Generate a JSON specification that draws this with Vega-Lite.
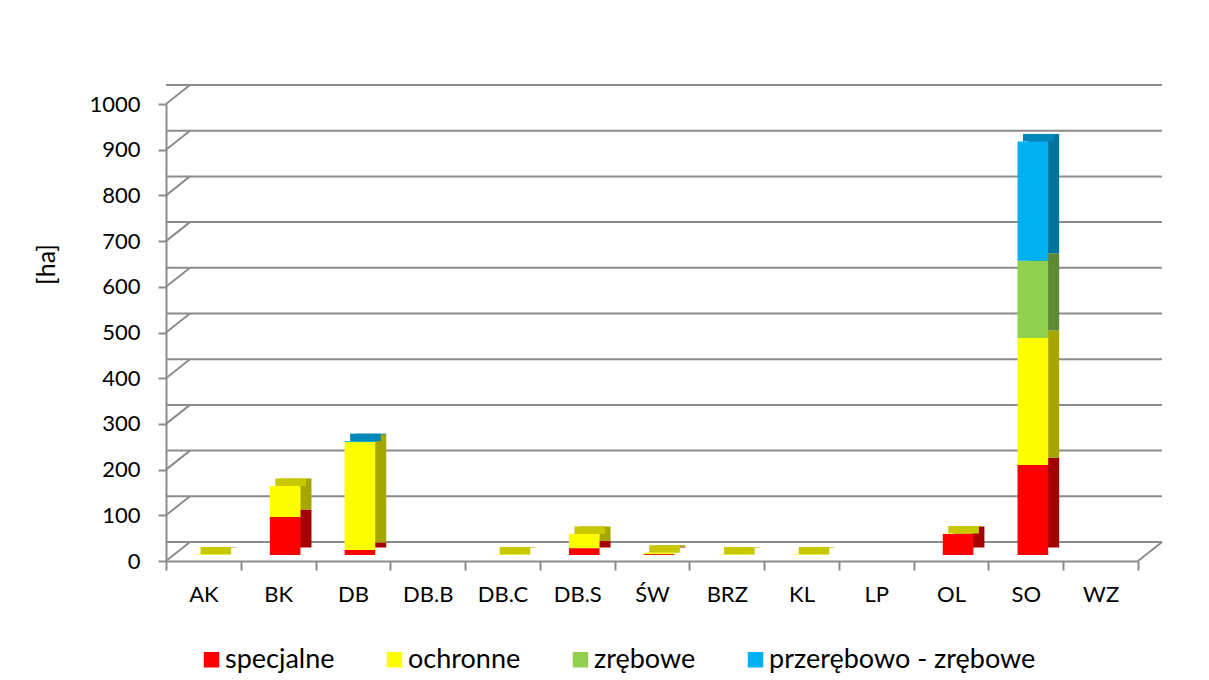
{
  "$schema": "https://vega.github.io/schema/vega-lite/v6.json",
  "width": 972,
  "height": 457,
  "autosize": {"type": "none"},
  "padding": {"left": 166, "top": 104, "right": 71, "bottom": 119},
  "background": "white",
  "config": {
    "view": {"stroke": null},
    "font": "Lato",
    "axis": {"labelFont": "Lato", "titleFont": "Lato", "labelColor": "#000000", "titleColor": "#000000", "domainColor": "#8c8c8c", "tickColor": "#8c8c8c", "domainWidth": 2, "tickWidth": 2, "grid": false},
    "axisX": {"labelFontSize": 22, "labelAngle": 0, "tickBand": "extent", "tickSize": 9, "labelPadding": 14},
    "axisY": {"labelFontSize": 22, "tickSize": 8, "labelPadding": 18, "format": "d", "titleFontSize": 25, "titleFontWeight": "normal", "titleAngle": -90, "titleX": -107, "titleY": 160, "values": [0, 100, 200, 300, 400, 500, 600, 700, 800, 900, 1000]},
    "legend": {"labelFont": "Lato", "labelFontSize": 27, "labelColor": "#000000"}
  },
  "datasets": {
    "bars": [
      {"cat": "AK", "s": "ochronne", "v": 1},
      {"cat": "BK", "s": "specjalne", "v": 83},
      {"cat": "BK", "s": "ochronne", "v": 68},
      {"cat": "DB", "s": "specjalne", "v": 11},
      {"cat": "DB", "s": "ochronne", "v": 236},
      {"cat": "DB", "s": "przerębowo - zrębowe", "v": 2},
      {"cat": "DB.B", "s": "specjalne", "v": 0},
      {"cat": "DB.C", "s": "ochronne", "v": 1},
      {"cat": "DB.S", "s": "specjalne", "v": 15},
      {"cat": "DB.S", "s": "ochronne", "v": 31},
      {"cat": "ŚW", "s": "specjalne", "v": 2},
      {"cat": "ŚW", "s": "ochronne", "v": 3},
      {"cat": "BRZ", "s": "ochronne", "v": 1},
      {"cat": "KL", "s": "ochronne", "v": 1},
      {"cat": "LP", "s": "specjalne", "v": 0},
      {"cat": "OL", "s": "specjalne", "v": 46},
      {"cat": "OL", "s": "ochronne", "v": 1},
      {"cat": "SO", "s": "specjalne", "v": 197},
      {"cat": "SO", "s": "ochronne", "v": 278},
      {"cat": "SO", "s": "zrębowe", "v": 169},
      {"cat": "SO", "s": "przerębowo - zrębowe", "v": 261},
      {"cat": "WZ", "s": "specjalne", "v": 0}
    ],
    "grid": [
      {"g": 0}, {"g": 100}, {"g": 200}, {"g": 300}, {"g": 400}, {"g": 500},
      {"g": 600}, {"g": 700}, {"g": 800}, {"g": 900}, {"g": 1000}
    ]
  },
  "resolve": {"scale": {"color": "independent"}},
  "layer": [
    {
      "data": {"name": "grid"},
      "mark": {"type": "rule", "color": "#8c8c8c", "strokeWidth": 2, "xOffset": 24, "yOffset": -19},
      "encoding": {
        "y": {"field": "g", "type": "quantitative", "scale": {"domain": [0, 1000], "nice": false}, "title": "[ha]"}
      }
    },
    {
      "data": {"name": "grid"},
      "mark": {"type": "rule", "color": "#8c8c8c", "strokeWidth": 2, "x2Offset": -13.4, "y2Offset": -19},
      "encoding": {
        "x": {"datum": "AK", "type": "nominal", "bandPosition": 0, "title": null},
        "x2": {"datum": "AK"},
        "y": {"field": "g", "type": "quantitative", "title": "[ha]"},
        "y2": {"field": "g"}
      }
    },
    {
      "data": {"values": [{"g": 0}]},
      "mark": {"type": "rule", "color": "#8c8c8c", "strokeWidth": 2, "x2Offset": 61.4, "y2Offset": -19},
      "encoding": {
        "x": {"datum": "WZ", "type": "nominal", "bandPosition": 1, "title": null},
        "x2": {"datum": "WZ"},
        "y": {"field": "g", "type": "quantitative", "title": "[ha]"},
        "y2": {"field": "g"}
      }
    },
    {
      "data": {"name": "bars"},
      "transform": [
        {"calculate": "indexof(['specjalne','ochronne','zrębowe','przerębowo - zrębowe'], datum.s)", "as": "k"},
        {"stack": "v", "groupby": ["cat"], "sort": [{"field": "k", "order": "ascending"}], "as": ["v0", "v1"]},
        {"filter": "datum.v > 0"}
      ],
      "mark": {"type": "bar", "width": {"band": 0.41}, "xOffset": 18, "yOffset": -13.5, "y2Offset": -13.5},
      "encoding": {
        "x": {"field": "cat", "type": "nominal", "title": null, "sort": null, "scale": {"domain": ["AK", "BK", "DB", "DB.B", "DB.C", "DB.S", "ŚW", "BRZ", "KL", "LP", "OL", "SO", "WZ"], "paddingInner": 0, "paddingOuter": 0}},
        "y": {"field": "v1", "type": "quantitative", "title": "[ha]"},
        "y2": {"field": "v0"},
        "color": {"field": "s", "type": "nominal", "legend": null, "scale": {"domain": ["specjalne", "ochronne", "zrębowe", "przerębowo - zrębowe"], "range": ["#A50000", "#A6A600", "#5F8A34", "#00739C"]}}
      }
    },
    {
      "data": {"name": "bars"},
      "transform": [
        {"calculate": "indexof(['specjalne','ochronne','zrębowe','przerębowo - zrębowe'], datum.s)", "as": "k"},
        {"stack": "v", "groupby": ["cat"], "sort": [{"field": "k", "order": "ascending"}], "as": ["v0", "v1"]},
        {"filter": "datum.v > 0"},
        {"window": [{"op": "max", "field": "k", "as": "kmax"}], "groupby": ["cat"], "frame": [null, null]},
        {"filter": "datum.k == datum.kmax"}
      ],
      "mark": {"type": "bar", "width": {"band": 0.41}, "xOffset": 12.5, "yOffset": -13.5, "y2Offset": -6},
      "encoding": {
        "x": {"field": "cat", "type": "nominal", "title": null, "sort": null},
        "y": {"field": "v1", "type": "quantitative", "title": "[ha]"},
        "y2": {"field": "v1"},
        "color": {"field": "s", "type": "nominal", "legend": null, "scale": {"domain": ["specjalne", "ochronne", "zrębowe", "przerębowo - zrębowe"], "range": ["#C80000", "#C8C800", "#76A83F", "#0088BA"]}}
      }
    },
    {
      "data": {"name": "bars"},
      "transform": [
        {"calculate": "indexof(['specjalne','ochronne','zrębowe','przerębowo - zrębowe'], datum.s)", "as": "k"},
        {"stack": "v", "groupby": ["cat"], "sort": [{"field": "k", "order": "ascending"}], "as": ["v0", "v1"]},
        {"filter": "datum.v > 0"}
      ],
      "mark": {"type": "bar", "width": {"band": 0.41}, "xOffset": 7, "yOffset": -6, "y2Offset": -6},
      "encoding": {
        "x": {"field": "cat", "type": "nominal", "title": null, "sort": null},
        "y": {"field": "v1", "type": "quantitative", "title": "[ha]", "axis": {"titleFontSize": 25}},
        "y2": {"field": "v0"},
        "color": {
          "field": "s", "type": "nominal", "title": null,
          "scale": {"domain": ["specjalne", "ochronne", "zrębowe", "przerębowo - zrębowe"], "range": ["#FF0000", "#FFFF00", "#92D050", "#00B0F0"]},
          "legend": {"orient": "none", "legendX": 32, "legendY": 542, "direction": "horizontal", "columns": 4, "symbolType": "square", "symbolSize": 240, "symbolStrokeWidth": 0, "labelOffset": 0, "columnPadding": 46, "padding": 0, "labelLimit": 500}
        }
      }
    }
  ]
}
